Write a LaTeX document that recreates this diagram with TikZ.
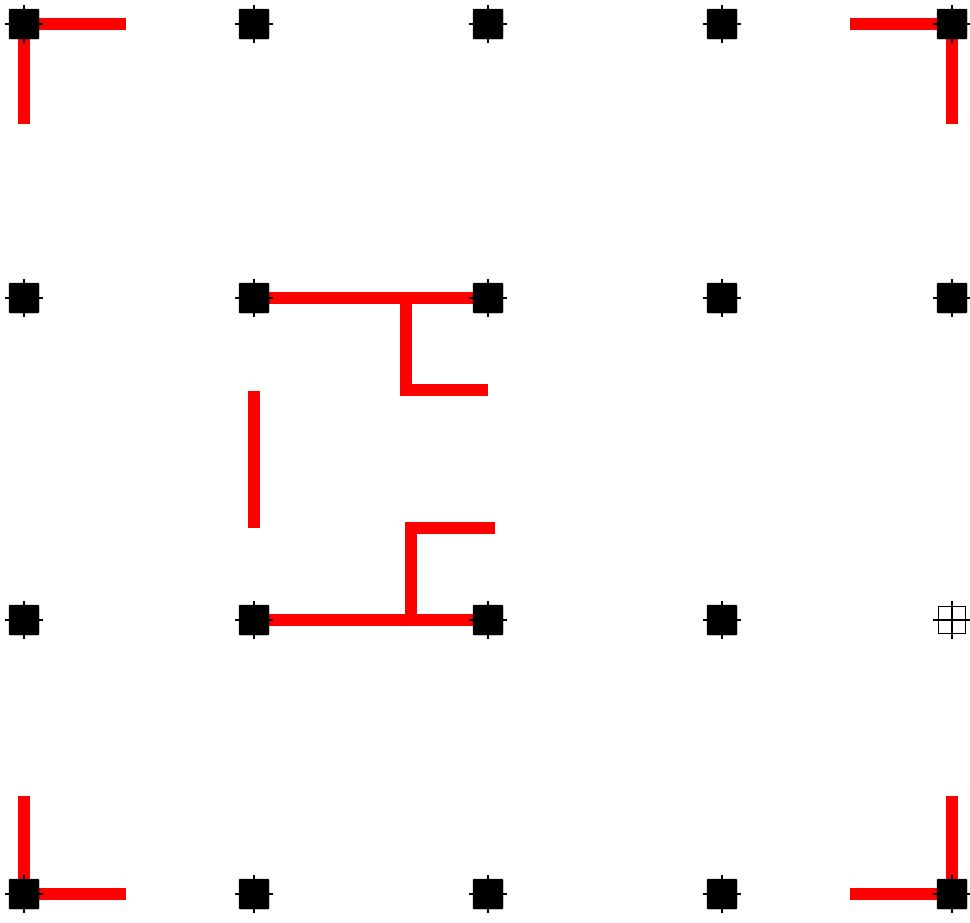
\documentclass[tikz,border=0pt]{standalone}
\usetikzlibrary{backgrounds}

\begin{document}
\begin{tikzpicture}[
      x=1pt, y=-1pt,
      pin/.style={draw=black, fill=black, rectangle, rounded corners=1pt, minimum size=30pt, inner sep=0pt},
      hole/.style={draw=black, fill=white, rectangle, line width=1.8pt, minimum size=27pt, inner sep=0pt},
      tick/.style={black, line width=1.5pt},
      wire/.style={red, line width=12pt}
    ]
      \useasboundingbox (0,0) rectangle (970,922);
      % grid of pins
      \foreach \x [count=\i] in {24,254,488,722,952} {
        \foreach \y [count=\j] in {24,298,620,894} {
          \def\sty{pin}
          \ifnum\i\j=53 \def\sty{hole}\fi
          \node[\sty] (p\i\j) at (\x,\y) {};
          \draw[tick] (p\i\j.center) +(-19,0) -- +(19,0);
          \draw[tick] (p\i\j.center) +(0,-19) -- +(0,19);
        }
      }
      % free ends
      \coordinate (tl-h) at (126,24);
      \coordinate (tl-v) at (24,124);
      \coordinate (tr-h) at (850,24);
      \coordinate (tr-v) at (952,124);
      \coordinate (bl-v) at (24,796);
      \coordinate (bl-h) at (126,894);
      \coordinate (br-v) at (952,796);
      \coordinate (br-h) at (850,894);
      \coordinate (u-top) at (406,298);
      \coordinate (u-bot) at (406,390);
      \coordinate (u-end) at (488,390);
      \coordinate (s-top) at (254,391);
      \coordinate (s-bot) at (254,528);
      \coordinate (d-bot) at (411,620);
      \coordinate (d-top) at (411,528);
      \coordinate (d-end) at (495,528);
      % red tracks
      \begin{scope}[on background layer]
        \draw[wire] (tl-h) -- (p11.center) -- (tl-v);
        \draw[wire] (tr-h) -- (p51.center) -- (tr-v);
        \draw[wire] (bl-v) -- (p14.center) -- (bl-h);
        \draw[wire] (br-v) -- (p54.center) -- (br-h);
        \draw[wire] (p22.center) -- (p32.center);
        \draw[wire] (u-top) -- (u-bot) -- (u-end);
        \draw[wire] (s-top) -- (s-bot);
        \draw[wire] (p23.center) -- (p33.center);
        \draw[wire] (d-bot) -- (d-top) -- (d-end);
      \end{scope}
    \end{tikzpicture}
\end{document}
